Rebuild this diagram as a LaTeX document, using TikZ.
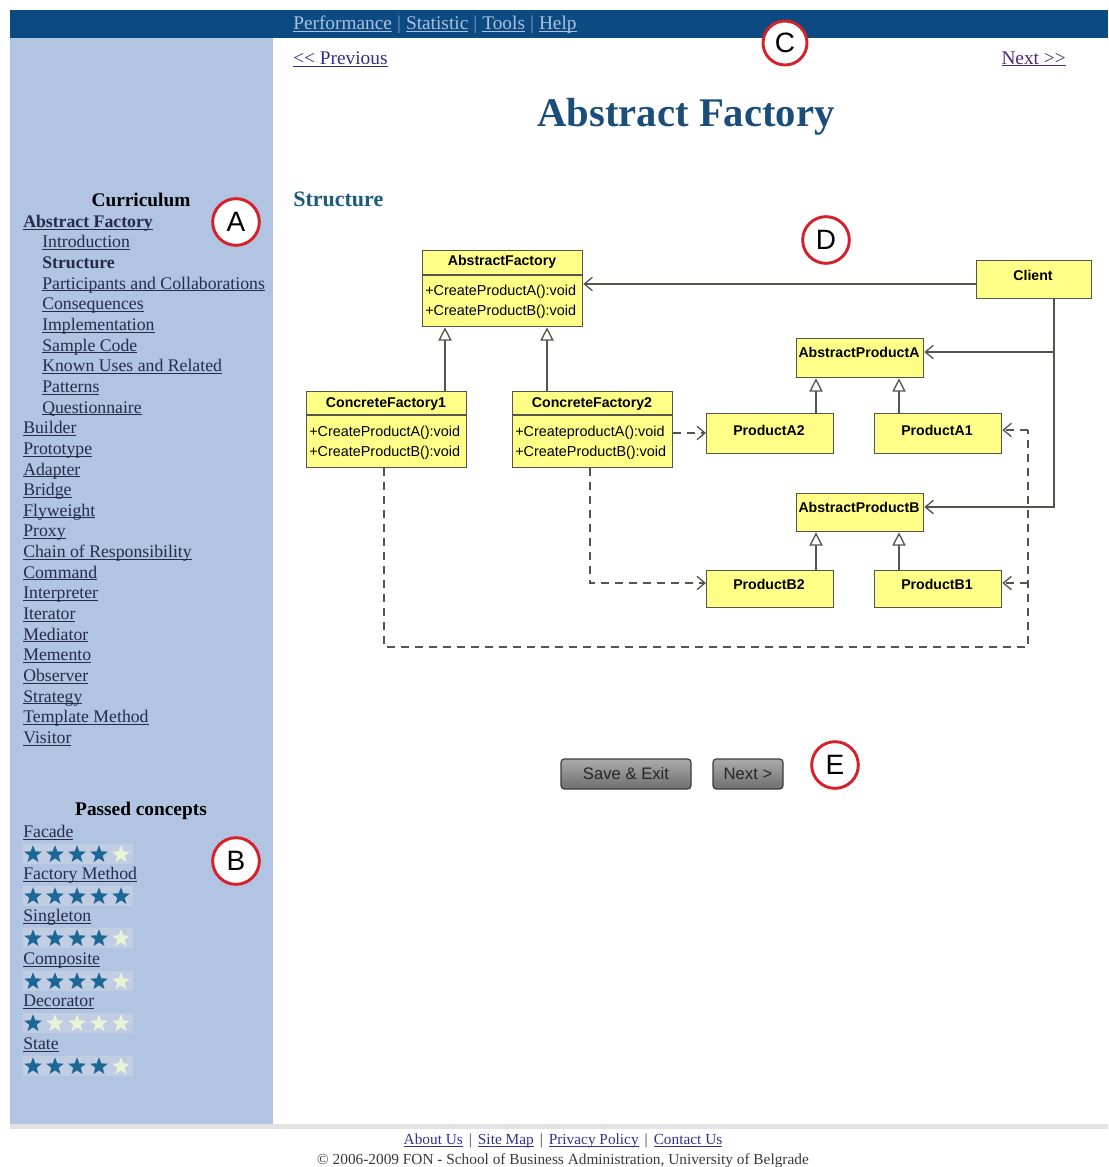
\documentclass[tikz,border=0pt]{standalone}
\usepackage{fontspec}
\setmainfont{Liberation Serif}
\newfontfamily\umlfont{Liberation Sans}
\usetikzlibrary{arrows.meta,shapes.geometric}

\definecolor{barblue}{HTML}{0C4A82}
\definecolor{sidebg}{HTML}{B1C4E2}
\definecolor{starbg}{HTML}{C0CDE2}
\definecolor{starblue}{HTML}{1D6796}
\definecolor{starpale}{HTML}{E9F4D6}
\definecolor{toplink}{HTML}{A9C1DF}
\definecolor{sidelink}{HTML}{252C4A}
\definecolor{navlink}{HTML}{30308A}
\definecolor{titleblue}{HTML}{1B4D7A}
\definecolor{headblue}{HTML}{1E5A7E}
\definecolor{umlyellow}{HTML}{FFFF88}
\definecolor{umlline}{HTML}{55554F}
\definecolor{markred}{HTML}{D8202A}
\definecolor{footgray}{HTML}{E3E3E3}
\definecolor{foottext}{HTML}{3A3A3A}
\definecolor{footlink}{HTML}{2E358C}
\definecolor{btntop}{HTML}{ABABAB}
\definecolor{btnbot}{HTML}{6E6E6E}
\definecolor{btnedge}{HTML}{3C3C3C}

% link text with a browser-like underline
\newcommand\weblink[1]{\setbox0\hbox{#1}\rlap{\rule[-1.6pt]{\wd0}{0.7pt}}\box0}
% separator between links in a row
\newcommand\linksep[2]{\hspace{#1}{\color{#2}|}\hspace{#1}}

\tikzset{
  sidetext/.style={anchor=west, inner sep=0pt, text height=9.5pt, text depth=3pt,
    font=\fontsize{13.3}{15}\selectfont, text=sidelink},
  sidehead/.style={inner sep=0pt, font=\bfseries\fontsize{14.5}{16}\selectfont, text=black},
  ratestar/.style={star, star points=5, star point ratio=2.4, minimum size=14pt,
    inner sep=0pt, draw=none},
  markcircle/.style={circle, draw=markred, line width=2.2pt, fill=white,
    minimum size=35pt, inner sep=0pt, font=\umlfont\fontsize{21}{21}\selectfont},
  umlbox/.style={draw=umlline, fill=umlyellow, line width=1pt, inner sep=0pt,
    anchor=north west},
  umlhead/.style={inner sep=0pt, font=\umlfont\bfseries\fontsize{10.6}{12}\selectfont},
  umlop/.style={inner sep=0pt, anchor=west, font=\umlfont\fontsize{10.8}{12}\selectfont},
  assoc/.style={draw=umlline, line width=1pt, -{Straight Barb[length=6pt,width=10pt]}},
  gen/.style={draw=umlline, line width=1pt, -{Triangle[open, length=10pt, width=10pt, fill=white]}},
  depline/.style={draw=umlline, line width=1pt, dash pattern=on 6pt off 4.5pt},
  dep/.style={depline, -{Straight Barb[length=6pt,width=10pt]}},
  webbutton/.style={draw=btnedge, line width=0.9pt, rounded corners=2.5pt,
    top color=btntop, bottom color=btnbot, inner sep=0pt, text=black!85,
    font=\umlfont\fontsize{12.5}{13}\selectfont},
}

\begin{document}
\begin{tikzpicture}[x=0.75pt,y=-0.75pt]
\useasboundingbox (0,0) rectangle (1108,1167);
\fill[white] (0,0) rectangle (1108,1167);

% page frame: menu bar, side column, footer rule
\fill[barblue] (10,10) rectangle (1108,38);
\fill[sidebg] (10,38) rectangle (273,1124);
\fill[footgray] (10,1124) rectangle (1108,1129);

% top menu
\node[anchor=west, inner sep=0pt, text=toplink, font=\fontsize{14.5}{16}\selectfont] (menu) at (293,25)
  {\weblink{Performance}\linksep{3.8pt}{toplink!70!barblue}\weblink{Statistic}\linksep{3.8pt}{toplink!70!barblue}\weblink{Tools}\linksep{3.8pt}{toplink!70!barblue}\weblink{Help}};

% page navigation
\node[anchor=west, inner sep=0pt, text=navlink, font=\fontsize{14.5}{16}\selectfont] (prev) at (293,59) {\weblink{<{}< Previous}};
\node[anchor=east, inner sep=0pt, text=navlink!80!purple, font=\fontsize{14.5}{16}\selectfont] (nextlink) at (1066,59) {\weblink{Next >{}>}};

% title and section heading
\node[inner sep=0pt, text=titleblue, font=\bfseries\fontsize{30.5}{32}\selectfont] (title) at (686,117) {Abstract Factory};
\node[anchor=west, inner sep=0pt, text=headblue, font=\bfseries\fontsize{16.5}{18}\selectfont] (structure) at (293,199) {Structure};

% curriculum
\node[sidehead] (curr) at (141,200) {Curriculum};
\node[sidetext, font=\bfseries\fontsize{13.3}{15}\selectfont] (side0) at (23,223) {\weblink{Abstract Factory}};
\node[sidetext, font=\bfseries\fontsize{13.3}{15}\selectfont] (side2) at (42,{223+20.64*2}) {Structure};
\foreach \i/\t in {1/Introduction, 3/Participants and Collaborations, 4/Consequences,
    5/Implementation, 6/Sample Code, 7/Known Uses and Related, 8/Patterns, 9/Questionnaire}
  \node[sidetext] (side\i) at (42,{223+20.64*\i}) {\weblink{\t}};
\foreach \i/\t in {10/Builder, 11/Prototype, 12/Adapter, 13/Bridge, 14/Flyweight, 15/Proxy,
    16/Chain of Responsibility, 17/Command, 18/Interpreter, 19/Iterator, 20/Mediator,
    21/Memento, 22/Observer, 23/Strategy, 24/Template Method, 25/Visitor}
  \node[sidetext] (side\i) at (23,{223+20.64*\i}) {\weblink{\t}};

% passed concepts with ratings
\node[sidehead] (passed) at (141,811) {Passed concepts};
\foreach \r/\t/\y/\cnt in {0/Facade/833/4, 1/Factory Method/875/5, 2/Singleton/917/4,
    3/Composite/960/4, 4/Decorator/1002/1, 5/State/1045/4} {
  \node[sidetext] (concept\r) at (23,\y) {\weblink{\t}};
  \fill[starbg] (23,\y+11) rectangle (133,\y+31);
  \foreach \k in {0,...,4} {
    \ifnum\k<\cnt \def\sc{starblue}\else \def\sc{starpale}\fi
    \node[ratestar, fill=\sc] (star\r\k) at ({33+22*\k},\y+21.5) {};
  }
}

% UML class boxes
\node[umlbox, minimum width=120pt, minimum height=57pt] (af) at (422,250) {};
\node[umlbox, minimum width=86.25pt, minimum height=28.5pt] (client) at (976,260) {};
\node[umlbox, minimum width=120pt, minimum height=57pt] (cf1) at (306,391) {};
\node[umlbox, minimum width=120pt, minimum height=57pt] (cf2) at (512,391) {};
\node[umlbox, minimum width=95.25pt, minimum height=29.25pt] (apa) at (796,338) {};
\node[umlbox, minimum width=95.25pt, minimum height=30pt] (pa2) at (706,413) {};
\node[umlbox, minimum width=95.25pt, minimum height=30pt] (pa1) at (874,413) {};
\node[umlbox, minimum width=95.25pt, minimum height=28.5pt] (apb) at (796,493) {};
\node[umlbox, minimum width=95.25pt, minimum height=27.75pt] (pb2) at (706,570) {};
\node[umlbox, minimum width=95.25pt, minimum height=27.75pt] (pb1) at (874,570) {};

% compartment rules
\draw[umlline, line width=1pt] (af.west |- 0,275) -- (af.east |- 0,275);
\draw[umlline, line width=1pt] (cf1.west |- 0,415) -- (cf1.east |- 0,415);
\draw[umlline, line width=1pt] (cf2.west |- 0,415) -- (cf2.east |- 0,415);

% class names and operations
\node[umlhead] (afname) at (502,262) {AbstractFactory};
\node[umlop] (afop1) at (425,292) {+CreateProductA():void};
\node[umlop] (afop2) at (425,312) {+CreateProductB():void};
\node[umlhead] (clientname) at (1033,275) {Client};
\node[umlhead] (cf1name) at (386,404) {ConcreteFactory1};
\node[umlop] (cf1op1) at (309,433) {+CreateProductA():void};
\node[umlop] (cf1op2) at (309,453) {+CreateProductB():void};
\node[umlhead] (cf2name) at (592,404) {ConcreteFactory2};
\node[umlop] (cf2op1) at (515,433) {+CreateproductA():void};
\node[umlop] (cf2op2) at (515,453) {+CreateProductB():void};
\node[umlhead] (apaname) at (859,352) {AbstractProductA};
\node[umlhead] (pa2name) at (769,430) {ProductA2};
\node[umlhead] (pa1name) at (937,430) {ProductA1};
\node[umlhead] (apbname) at (859,507) {AbstractProductB};
\node[umlhead] (pb2name) at (769,584) {ProductB2};
\node[umlhead] (pb1name) at (937,584) {ProductB1};

% associations from Client
\coordinate (busA) at (1054,352);
\draw[assoc] (client.west |- 0,284) -- (af.east |- 0,284);
\draw[assoc] (client.south -| 1054,0) |- (apb.east |- 0,507);
\draw[assoc] (busA) -- (apa.east |- 0,352);

% generalizations
\draw[gen] (445,0 |- cf1.north) -- (445,0 |- af.south);
\draw[gen] (547,0 |- cf2.north) -- (547,0 |- af.south);
\draw[gen] (816,0 |- pa2.north) -- (816,0 |- apa.south);
\draw[gen] (899,0 |- pa1.north) -- (899,0 |- apa.south);
\draw[gen] (816,0 |- pb2.north) -- (816,0 |- apb.south);
\draw[gen] (899,0 |- pb1.north) -- (899,0 |- apb.south);

% creation dependencies
\coordinate (loopA) at (1028,430);
\coordinate (loopB) at (1028,583);
\coordinate (loopC) at (1028,647);
\draw[dep] (cf2.east |- 0,433) -- (pa2.west |- 0,433);
\draw[dep] (590,0 |- cf2.south) |- (pb2.west |- 0,583);
\draw[depline] (384,0 |- cf1.south) |- (loopC) -- (loopA);
\draw[dep] (loopA) -- (pa1.east |- 0,430);
\draw[dep] (loopB) -- (pb1.east |- 0,583);

% buttons
\node[webbutton, minimum width=97.5pt, minimum height=22.5pt] (save) at (626,774) {Save \& Exit};
\node[webbutton, minimum width=52.5pt, minimum height=22.5pt] (nextbtn) at (748,774) {Next >};

% callout markers
\node[markcircle] (mA) at (236,222) {A};
\node[markcircle] (mB) at (236,861) {B};
\node[markcircle, minimum size=33pt] (mC) at (785,43) {C};
\node[markcircle] (mD) at (826,240) {D};
\node[markcircle] (mE) at (835,765) {E};

% footer
\node[inner sep=0pt, text=footlink, font=\fontsize{11.5}{13}\selectfont] (footlinks) at (563,1141)
  {\weblink{About Us}\linksep{4.5pt}{foottext}\weblink{Site Map}\linksep{4.5pt}{foottext}\weblink{Privacy Policy}\linksep{4.5pt}{foottext}\weblink{Contact Us}};
\node[inner sep=0pt, text=foottext, font=\fontsize{11.5}{13}\selectfont] (copy) at (563,1161)
  {\textcopyright\ 2006-2009 FON - School of Business Administration, University of Belgrade};
\end{tikzpicture}
\end{document}
